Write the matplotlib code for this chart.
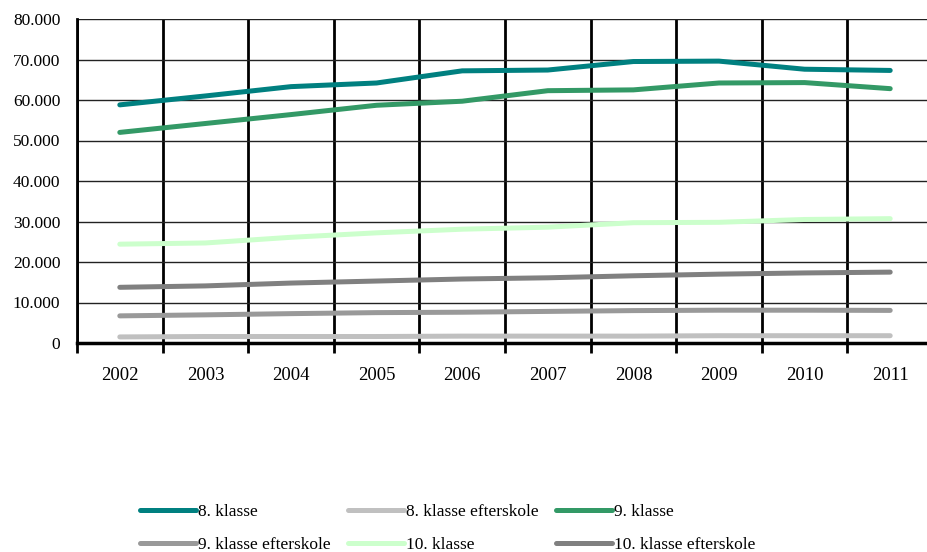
import numpy as np
import matplotlib.pyplot as plt
from matplotlib.ticker import FixedLocator

plt.rcParams['font.family'] = ['Liberation Serif', 'DejaVu Serif']

years = ['2002', '2003', '2004', '2005', '2006', '2007', '2008', '2009', '2010', '2011']

kl8 = [58800, 61000, 63300, 64200, 67200, 67400, 69500, 69600, 67600, 67300]
kl8_eft = [1500, 1600, 1600, 1600, 1700, 1700, 1700, 1800, 1800, 1800]
kl9 = [52000, 54200, 56400, 58700, 59700, 62300, 62500, 64200, 64300, 62800]
kl9_eft = [6700, 6950, 7250, 7500, 7600, 7800, 8000, 8100, 8100, 8050]
kl10 = [24400, 24700, 26100, 27200, 28100, 28600, 29700, 29800, 30500, 30700]
kl10_eft = [13750, 14100, 14800, 15300, 15800, 16100, 16600, 17000, 17300, 17500]

series = [
    ('8. klasse', kl8, '#008080'),
    ('8. klasse efterskole', kl8_eft, '#c0c0c0'),
    ('9. klasse', kl9, '#339966'),
    ('9. klasse efterskole', kl9_eft, '#999999'),
    ('10. klasse', kl10, '#ccffcc'),
    ('10. klasse efterskole', kl10_eft, '#808080'),
]

yticks = [0, 10000, 20000, 30000, 40000, 50000, 60000, 70000, 80000]
ylabels = ['0', '10.000', '20.000', '30.000', '40.000', '50.000', '60.000', '70.000', '80.000']

fig = plt.figure(figsize=(9.27, 5.52), dpi=100)
ax = fig.add_axes([77 / 927, 1 - 343 / 552, 856 / 927, 324 / 552])

x = np.arange(len(years))
handles = []
for name, vals, col in series:
    h, = ax.plot(x, vals, color=col, lw=3.6, solid_capstyle='round',
                 solid_joinstyle='round', label=name, zorder=3)
    handles.append(h)

ax.set_xlim(-0.5, len(years) - 0.5)
ax.set_ylim(0, 80000)
ax.set_yticks(yticks)
ax.set_yticklabels(ylabels, fontsize=12.5)
ax.set_xticks(x)
ax.set_xticklabels(years, fontsize=13.5)
ax.xaxis.set_minor_locator(FixedLocator(np.arange(-0.5, len(years), 1.0)))

ax.tick_params(axis='y', length=0, pad=12)
ax.tick_params(axis='x', which='major', length=0, pad=17)
ax.tick_params(axis='x', which='minor', length=7, width=2, direction='out', color='black')

ax.grid(axis='y', which='major', color='#222222', lw=1.0, zorder=1)
ax.grid(axis='x', which='minor', color='black', lw=2.0, zorder=1)

for s in ['top', 'right']:
    ax.spines[s].set_visible(False)
ax.spines['left'].set_linewidth(2)
ax.spines['bottom'].set_linewidth(2.5)

order = [0, 3, 1, 4, 2, 5]
fig.legend([handles[i] for i in order], [series[i][0] for i in order],
           ncol=3, loc='upper left', bbox_to_anchor=(133 / 927, 1 - 497 / 552),
           frameon=False, fontsize=12.5, handlelength=3.2, handletextpad=0.15,
           columnspacing=1.0, labelspacing=0.95, borderaxespad=0)

fig.savefig('out.png', dpi=100)
